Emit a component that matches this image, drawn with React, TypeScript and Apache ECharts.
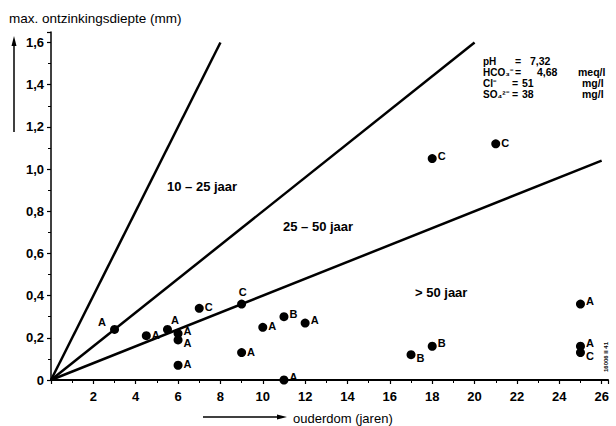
import React, { useEffect, useRef } from "react";
import * as echarts from "echarts";

// Data
const ages = [3, 4.5, 5.5, 6, 6, 6, 7, 9, 9, 10, 11, 11, 12, 17, 18, 18, 21, 25, 25, 25];
const depths = [0.24, 0.21, 0.24, 0.22, 0.19, 0.07, 0.34, 0.36, 0.13, 0.25, 0.3, 0.0, 0.27, 0.12, 0.16, 1.05, 1.12, 0.36, 0.16, 0.13];
const types = ["A", "A", "A", "A", "A", "A", "C", "C", "A", "A", "B", "A", "A", "B", "B", "C", "C", "A", "A", "C"];
// label placement relative to the dot (style only)
const labelPlace = ["lu", "r", "ruu", "ru", "rd", "r", "r", "t", "r", "r", "ru", "ru", "ru", "rd", "ru", "ru", "r", "ru", "ru", "rd"];

// Boundary lines from the origin
const lineEndAges = [8, 20, 26];
const lineEndDepths = [1.6, 1.6, 1.04];
const zoneLabels = ["10 – 25 jaar", "25 – 50 jaar", "> 50 jaar"];

// Water composition legend
const chemNames = ["pH", "HCO₃⁻", "Cl⁻", "SO₄²⁻"];
const chemValues = ["7,32", "4,68", "51", "38"];
const chemUnits = ["", "meq/l", "mg/l", "mg/l"];

const xTicks = [2, 4, 6, 8, 10, 12, 14, 16, 18, 20, 22, 24, 26];
const yTicks = [0, 0.2, 0.4, 0.6, 0.8, 1.0, 1.2, 1.4, 1.6];

const FONT = "Liberation Sans, Arial, sans-serif";

function placeLabel(p: string) {
  switch (p) {
    case "lu":
      return { position: "left", offset: [1, -7] };
    case "ruu":
      return { position: "right", offset: [-6, -9] };
    case "ru":
      return { position: "right", offset: [-4, -3] };
    case "rd":
      return { position: "right", offset: [-4, 3] };
    case "t":
      return { position: "top", offset: [1, 3] };
    default:
      return { position: "right", offset: [-4, -1] };
  }
}

export default function App() {
  const ref = useRef<HTMLDivElement>(null);
  useEffect(() => {
    if (!ref.current) return;
    const chart = echarts.init(ref.current, null, { renderer: "svg" });

    const points = ages.map((a, i) => {
      const lp = placeLabel(labelPlace[i]);
      return {
        value: [a, depths[i]],
        label: {
          show: true,
          formatter: types[i],
          position: lp.position,
          offset: lp.offset,
          color: "#000",
          fontSize: 11,
          lineHeight: 11,
          fontWeight: "bold",
          fontFamily: FONT,
        },
      };
    });

    const lineSeries = lineEndAges.map((a, i) => ({
      type: "line",
      data: [
        [0, 0],
        [a, lineEndDepths[i]],
      ],
      symbol: "none",
      lineStyle: { color: "#000", width: 2.5 },
      z: 2,
    }));

    const txt = (x: number, y: number, text: string, size: number, weight = "normal", lh?: number) => ({
      type: "text",
      x,
      y,
      style: {
        text,
        font: `${weight} ${size}px ${FONT}`,
        fill: "#000",
        lineHeight: lh,
        textVerticalAlign: "middle",
        verticalAlign: "middle",
      },
    });

    const chemTexts: any[] = [];
    chemNames.forEach((n, i) => {
      const y = 61 + i * 11;
      chemTexts.push(txt(483, y, n, 10, "bold", 10));
      chemTexts.push(txt(i < 2 ? 515 : 512, y, "=", 10.5, "bold", 10));
      chemTexts.push(txt(i === 0 ? 530 : i === 1 ? 537 : 522, y, chemValues[i], 10.5, "bold", 10));
      if (chemUnits[i]) chemTexts.push(txt(i === 1 ? 578 : 582, y, chemUnits[i], 10.5, "bold", 10));
    });

    chart.setOption({
      animation: false,
      backgroundColor: "#fff",
      grid: { left: 51, right: 8, top: 32, bottom: 46 },
      xAxis: {
        type: "value",
        min: 0,
        max: 26.3,
        interval: 2,
        splitLine: { show: false },
        axisLine: { show: true, lineStyle: { color: "#000", width: 2 } },
        axisTick: { show: true, length: 4, lineStyle: { color: "#000", width: 1.2 } },
        minorTick: { show: true, splitNumber: 2, length: 3, lineStyle: { color: "#000" } },
        axisLabel: {
          color: "#000",
          fontSize: 13,
          fontWeight: "bold",
          fontFamily: FONT,
          margin: 10,
          formatter: (v: number) => (xTicks.includes(v) ? String(v) : ""),
        },
      },
      yAxis: {
        type: "value",
        min: 0,
        max: 1.65,
        interval: 0.2,
        splitLine: { show: false },
        axisLine: { show: true, lineStyle: { color: "#000", width: 1.5 } },
        axisTick: { show: true, length: 4, lineStyle: { color: "#000", width: 1.2 } },
        minorTick: { show: true, splitNumber: 2, length: 3, lineStyle: { color: "#000" } },
        axisLabel: {
          color: "#000",
          fontSize: 13,
          fontWeight: "bold",
          fontFamily: FONT,
          margin: 7,
          formatter: (v: number) => {
            const t = yTicks.find((y) => Math.abs(y - v) < 1e-6);
            if (t === undefined) return "";
            return t === 0 ? "0" : t.toFixed(1).replace(".", ",");
          },
        },
      },
      series: [
        ...lineSeries,
        {
          type: "scatter",
          data: points,
          symbol: "circle",
          symbolSize: 9,
          itemStyle: { color: "#000", opacity: 1 },
          z: 3,
        },
      ],
      graphic: [
        txt(9, 18, "max. ontzinkingsdiepte (mm)", 13.5),
        { type: "line", shape: { x1: 14, y1: 132, x2: 14, y2: 44 }, style: { stroke: "#000", lineWidth: 1.5 } },
        { type: "polygon", shape: { points: [[14, 36], [11.5, 46], [16.5, 46]] }, style: { fill: "#000" } },
        { type: "line", shape: { x1: 203, y1: 417, x2: 278, y2: 417 }, style: { stroke: "#000", lineWidth: 1.5 } },
        { type: "polygon", shape: { points: [[287, 417], [277, 414.5], [277, 419.5]] }, style: { fill: "#000" } },
        txt(293, 418, "ouderdom (jaren)", 13),
        txt(167, 186, zoneLabels[0], 13, "bold"),
        txt(283, 226, zoneLabels[1], 13, "bold"),
        txt(415, 292, zoneLabels[2], 13, "bold"),
        ...chemTexts,
        {
          type: "text",
          x: 606,
          y: 372,
          rotation: Math.PI / 2,
          style: { text: "16006 II 41", font: `bold 6px ${FONT}`, fill: "#000", textVerticalAlign: "middle", verticalAlign: "middle" },
        },
      ],
    });
    return () => chart.dispose();
  }, []);
  return (
    <div
      ref={ref}
      style={{ position: "fixed", left: 0, top: 0, width: 616, height: 426, background: "#fff" }}
    />
  );
}
